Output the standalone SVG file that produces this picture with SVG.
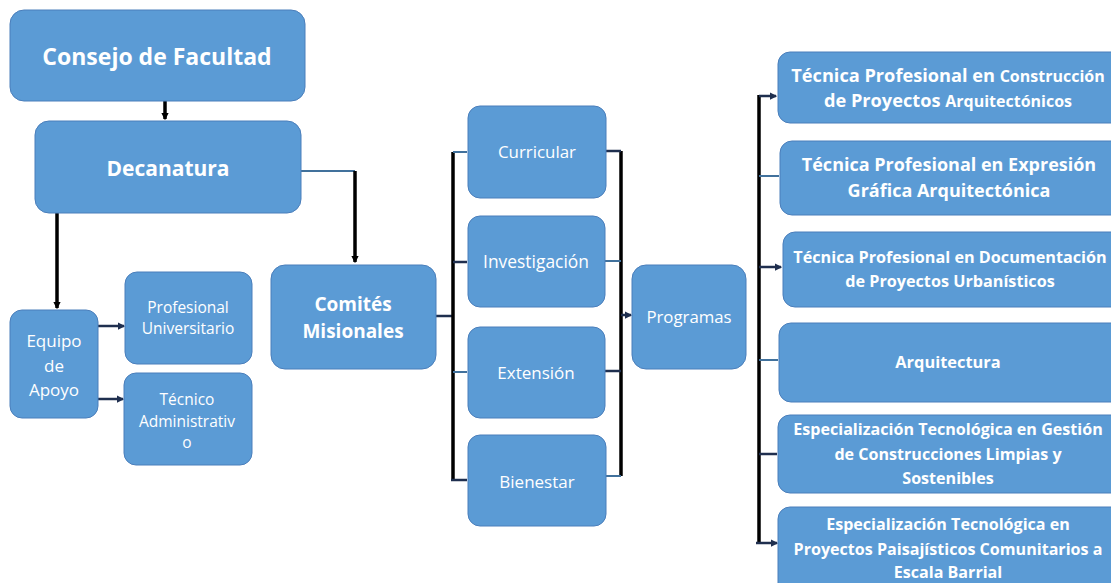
<svg xmlns="http://www.w3.org/2000/svg" width="1111" height="583" viewBox="0 0 1111 583">
<defs>
<style>
.box{fill:#5B9BD5;stroke:#4A7EBB;stroke-width:1}
.t{fill:#fff;font-family:"Open Sans","Noto Sans","Liberation Sans",sans-serif;text-anchor:middle}
.b{font-weight:bold}
.blk{stroke:#000;stroke-width:3.5;fill:none}
.nav{stroke:#1F2F4F;stroke-width:2.5;fill:none}
.stl{stroke:#41719C;stroke-width:2;fill:none}
</style>
<marker id="ah" viewBox="0 0 6 6" refX="5" refY="3" markerWidth="3" markerHeight="3" orient="auto" markerUnits="strokeWidth"><path d="M0,0 L6,3 L0,6 z" fill="#1F2F4F"/></marker>
<marker id="ahk" viewBox="0 0 6 6" refX="5" refY="3" markerWidth="2.2" markerHeight="2.2" orient="auto" markerUnits="strokeWidth"><path d="M0,0 L6,3 L0,6 z" fill="#000"/></marker>
</defs>
<rect width="1111" height="583" fill="#fff"/>

<g id="connectors">
<path class="blk" d="M165,101 V119" marker-end="url(#ahk)"/>
<path class="stl" d="M301,171 H355"/>
<path class="blk" d="M355,171 V262" marker-end="url(#ahk)"/>
<path class="blk" d="M57,213 V308" marker-end="url(#ahk)"/>
<path class="nav" d="M98,326 H124" marker-end="url(#ah)"/>
<path class="nav" d="M98,399 H123" stroke-width="3.5" marker-end="url(#ah)"/>
<path class="nav" d="M436,316 H454"/>
<path class="blk" d="M453,152 V480"/>
<path class="stl" d="M453,152 H467"/>
<path class="nav" d="M453,262 H467"/>
<path class="stl" d="M453,372 H467"/>
<path class="nav" d="M451,480 H467"/>
<path class="blk" d="M621,151 V476"/>
<path class="nav" d="M606,151 H621"/>
<path class="stl" d="M605,261 H621"/>
<path class="nav" d="M605,371 H621" stroke-width="3"/>
<path class="stl" d="M606,476 H621"/>
<path class="nav" d="M621,315 H631" marker-end="url(#ah)"/>
<path class="blk" d="M759,95 V543"/>
<path class="nav" d="M759,96 H776" marker-end="url(#ah)"/>
<path class="stl" d="M759,176 H779"/>
<path class="nav" d="M759,267 H781" marker-end="url(#ah)"/>
<path class="stl" d="M759,360 H778"/>
<path class="nav" d="M759,454 H777"/>
<path class="nav" d="M756,543 H777" marker-end="url(#ah)"/>
</g>

<g id="consejo"><rect class="box" x="10" y="10" width="295" height="91" rx="14"/>
<text class="t b" x="157" y="65" font-size="23">Consejo de Facultad</text></g>

<g id="decanatura"><rect class="box" x="35" y="121" width="266" height="92" rx="14"/>
<text class="t b" x="168" y="176" font-size="21">Decanatura</text></g>

<g id="equipo"><rect class="box" x="10" y="310" width="88" height="108" rx="12"/>
<text class="t" x="54" y="347" font-size="17">Equipo</text>
<text class="t" x="54" y="372" font-size="17">de</text>
<text class="t" x="54" y="396" font-size="17">Apoyo</text></g>

<g id="profesional"><rect class="box" x="125" y="272" width="127" height="92" rx="12"/>
<text class="t" x="188" y="313" font-size="15.5">Profesional</text>
<text class="t" x="188" y="334" font-size="15.5">Universitario</text></g>

<g id="tecnico"><rect class="box" x="124" y="373" width="128" height="92" rx="12"/>
<text class="t" x="187" y="405" font-size="15.5">Técnico</text>
<text class="t" x="187" y="427" font-size="15.5">Administrativ</text>
<text class="t" x="187" y="448" font-size="15.5">o</text></g>

<g id="comites"><rect class="box" x="271" y="265" width="165" height="104" rx="14"/>
<text class="t b" x="353" y="311" font-size="19">Comités</text>
<text class="t b" x="353" y="338" font-size="19">Misionales</text></g>

<g id="curricular"><rect class="box" x="468" y="106" width="138" height="92" rx="12"/>
<text class="t" x="537" y="158" font-size="16.9">Curricular</text></g>

<g id="investigacion"><rect class="box" x="468" y="216" width="137" height="91" rx="12"/>
<text class="t" x="536" y="268" font-size="17.4">Investigación</text></g>

<g id="extension"><rect class="box" x="468" y="327" width="137" height="91" rx="12"/>
<text class="t" x="536" y="379" font-size="17">Extensión</text></g>

<g id="bienestar"><rect class="box" x="468" y="435" width="138" height="91" rx="12"/>
<text class="t" x="537" y="488" font-size="17">Bienestar</text></g>

<g id="programas"><rect class="box" x="632" y="265" width="114" height="104" rx="14"/>
<text class="t" x="689" y="323" font-size="16.8">Programas</text></g>

<g id="p1"><rect class="box" x="778" y="52" width="345" height="71" rx="12"/>
<text class="t b" x="948" y="82" font-size="18.2">Técnica Profesional en <tspan font-size="16">Construcción</tspan></text>
<text class="t b" x="948" y="107" font-size="18.2">de Proyectos <tspan font-size="16">Arquitectónicos</tspan></text></g>

<g id="p2"><rect class="box" x="780" y="141" width="345" height="74" rx="12"/>
<text class="t b" x="949" y="171" font-size="18">Técnica Profesional en Expresión</text>
<text class="t b" x="949" y="197" font-size="18">Gráfica Arquitectónica</text></g>

<g id="p3"><rect class="box" x="783" y="232" width="345" height="75" rx="12"/>
<text class="t b" x="950" y="263" font-size="16.2">Técnica Profesional en Documentación</text>
<text class="t b" x="950" y="287" font-size="16.2">de Proyectos Urbanísticos</text></g>

<g id="p4"><rect class="box" x="779" y="323" width="345" height="79" rx="12"/>
<text class="t b" x="948" y="368" font-size="16.4">Arquitectura</text></g>

<g id="p5"><rect class="box" x="778" y="415" width="345" height="78" rx="12"/>
<text class="t b" x="948" y="435" font-size="16.1">Especialización Tecnológica en Gestión</text>
<text class="t b" x="948" y="460" font-size="16.1">de Construcciones Limpias y</text>
<text class="t b" x="948" y="484" font-size="16.1">Sostenibles</text></g>

<g id="p6"><rect class="box" x="778" y="507" width="345" height="90" rx="12"/>
<text class="t b" x="948" y="530" font-size="16.1">Especialización Tecnológica en</text>
<text class="t b" x="948" y="555" font-size="16.1">Proyectos Paisajísticos Comunitarios a</text>
<text class="t b" x="948" y="578" font-size="16.1">Escala Barrial</text></g>
</svg>
